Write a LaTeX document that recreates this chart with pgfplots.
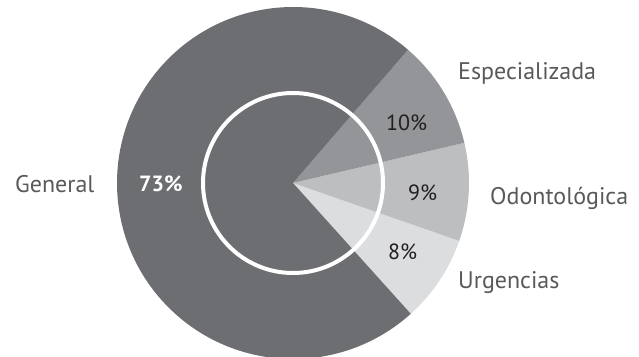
\documentclass[border=0pt]{standalone}
\usepackage{pgfplots}
\pgfplotsset{compat=1.18}
\usepackage{fontspec}
\setmainfont{PT Sans}
\definecolor{cGen}{RGB}{109,110,113}
\definecolor{cEsp}{RGB}{147,149,152}
\definecolor{cOdo}{RGB}{188,190,192}
\definecolor{cUrg}{RGB}{220,221,223}
\definecolor{txt}{RGB}{88,89,91}
\definecolor{pct}{RGB}{35,31,32}
% shares (percent): Urgencias 8, Odontologica 9, Especializada 10, General 73
\begin{document}
\begin{tikzpicture}
\begin{axis}[
  width=639pt, height=356pt, scale only axis,
  xmin=0, xmax=639, ymin=0, ymax=356,
  hide axis,
]
% wedges, starting at -48 degrees, counter-clockwise, 3.6 degrees per percent
\fill[cUrg] (axis cs:293,173) -- ++(-48:176pt) arc[start angle=-48, delta angle={3.6*8}, radius=176pt] -- cycle;
\fill[cOdo] (axis cs:293,173) -- ++(-19.2:176pt) arc[start angle=-19.2, delta angle={3.6*9}, radius=176pt] -- cycle;
\fill[cEsp] (axis cs:293,173) -- ++(13.2:176pt) arc[start angle=13.2, delta angle={3.6*10}, radius=176pt] -- cycle;
\fill[cGen] (axis cs:293,173) -- ++(49.2:176pt) arc[start angle=49.2, delta angle={3.6*73}, radius=176pt] -- cycle;
\draw[white, line width=4pt] (axis cs:293,173) circle[radius=90pt];
% labels
\node[anchor=base west, inner sep=0pt, text=txt, font=\fontsize{24}{28}\selectfont] at (axis cs:458,276) {Especializada};
\node[anchor=base west, inner sep=0pt, text=txt, font=\fontsize{24}{28}\selectfont] at (axis cs:490,151) {Odontológica};
\node[anchor=base west, inner sep=0pt, text=txt, font=\fontsize{24}{28}\selectfont] at (axis cs:458,67) {Urgencias};
\node[anchor=base west, inner sep=0pt, text=txt, font=\fontsize{24}{28}\selectfont] at (axis cs:15,163.5) {General};
\node[anchor=base west, inner sep=0pt, text=white, font=\bfseries\fontsize{22}{26}\selectfont] at (axis cs:139,164.3) {73\%};
\node[anchor=base west, inner sep=0pt, text=pct, font=\fontsize{22}{26}\selectfont] at (axis cs:386,225) {10\%};
\node[anchor=base west, inner sep=0pt, text=pct, font=\fontsize{22}{26}\selectfont] at (axis cs:408,155) {9\%};
\node[anchor=base west, inner sep=0pt, text=pct, font=\fontsize{22}{26}\selectfont] at (axis cs:388,96) {8\%};
\end{axis}
\pgfresetboundingbox
\path[use as bounding box] (current axis.south west) rectangle (current axis.north east);
\end{tikzpicture}
\end{document}
